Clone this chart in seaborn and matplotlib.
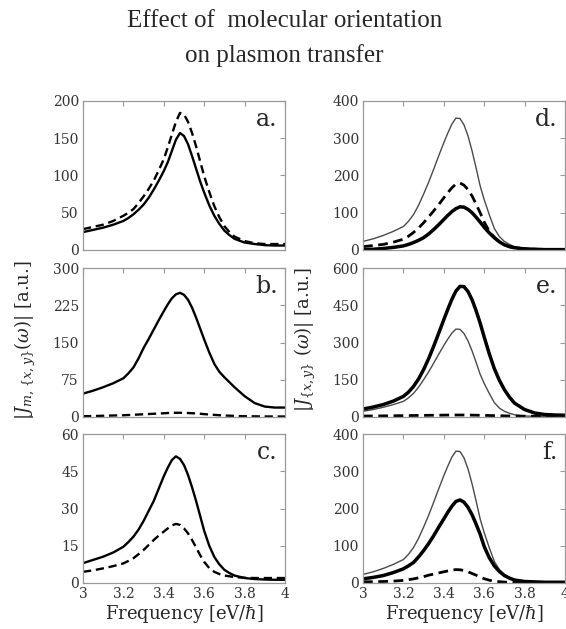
import numpy as np
import pandas as pd
import seaborn as sns
import matplotlib.pyplot as plt

# frequency grid (eV/hbar), denser around the peak
freq = [3.00, 3.05, 3.10, 3.15, 3.20,
        3.225, 3.25, 3.275, 3.30, 3.325, 3.35, 3.375, 3.40,
        3.42, 3.44, 3.46, 3.48, 3.50, 3.52, 3.54, 3.56, 3.58, 3.60,
        3.625, 3.65, 3.675, 3.70, 3.725, 3.75,
        3.80, 3.85, 3.90, 3.95, 4.00]

# left column: |J_m,{x,y}|
a_solid = [24, 27, 30, 34, 39,
           43, 48, 54, 61, 70, 81, 93, 106,
           118, 133, 148, 157, 153, 142, 126, 109, 92, 77,
           60, 46, 35, 26, 20, 15,
           10, 8, 6.5, 6, 6]
a_dash = [28, 31, 34, 39, 46,
          50, 55, 63, 72, 82, 93, 107, 122,
          138, 155, 172, 184, 182, 172, 157, 139, 119, 99,
          78, 59, 44, 32, 24, 18,
          12, 9, 8, 8, 8]
b_solid = [47, 53, 60, 68, 78,
           88, 100, 118, 139, 157, 176, 195, 213,
           227, 239, 247, 250, 246, 236, 220, 200, 178, 156,
           130, 107, 91, 80, 70, 60,
           42, 28, 21, 19, 19]
b_dash = [1.5, 2, 2.5, 3, 3.5,
          4, 4.5, 5, 5.5, 6, 6.5, 7, 7.5,
          8, 8.3, 8.5, 8.5, 8.3, 8, 7.6, 7.2, 6.5, 5.8,
          5, 4.3, 3.6, 3, 2.6, 2.2,
          1.6, 1.3, 1.1, 1, 1]
c_solid = [8, 9.3, 10.6, 12.3, 14.6,
           16.5, 18.7, 21.5, 25, 29, 33, 38, 43,
           46.5, 49.5, 51, 50, 47.5, 43.5, 38.5, 33, 27, 21,
           15, 10.5, 7.5, 5.3, 4, 3,
           2, 1.6, 1.4, 1.3, 1.3]
c_dash = [4.5, 5.1, 5.9, 6.8, 7.9,
          8.9, 10, 11.6, 13.3, 15.3, 17.3, 19.1, 20.7,
          22, 23.2, 23.8, 23.4, 22, 20, 17.3, 14.3, 11.2, 8.5,
          6, 4.5, 3.6, 3, 2.7, 2.4,
          2.1, 2, 2, 2, 2]

# right column: |J_{x,y}|, thin reference curve shared by d, e, f
j_thin = [23, 30, 39, 50, 63,
          77, 95, 120, 150, 182, 217, 253, 288,
          314, 338, 354, 353, 336, 306, 266, 220, 172, 135,
          95, 58, 36, 23, 15, 9,
          4, 2.5, 2, 1.5, 1]
d_dash = [9, 12, 15, 21, 29,
          37, 47, 59, 73, 89, 105, 122, 140,
          154, 167, 177, 180, 174, 162, 145, 123, 100, 75,
          50, 34, 22, 14, 9, 6,
          3, 2, 1, 1, 1]
d_thick = [1, 2, 4, 7, 11,
           15, 20, 26, 33, 43, 55, 68, 82,
           93, 103, 111, 116, 115, 109, 100, 88, 75, 61,
           46, 33, 22, 14, 9, 6,
           3, 2, 1, 1, 1]
e_thick = [32, 40, 50, 64, 83,
           100, 123, 153, 191, 235, 285, 338, 392,
           434, 474, 507, 526, 525, 505, 472, 428, 378, 322,
           255, 195, 148, 110, 80, 56,
           30, 16, 10, 8, 7]
e_dash = [4, 4, 4.5, 5, 5.5,
          5.8, 6, 6.3, 6.5, 6.8, 7, 7.3, 7.5,
          7.8, 8, 8, 8, 8, 7.8, 7.5, 7.2, 6.8, 6.5,
          6, 5.5, 5, 4.5, 4, 3.7,
          3.3, 3, 3, 3, 3]
f_thick = [11, 15, 20, 28, 38,
           46, 55, 70, 87, 106, 127, 150, 172,
           190, 206, 219, 223, 217, 203, 183, 158, 131, 98,
           68, 46, 31, 20, 13, 8,
           4, 3, 2, 2, 2]
f_dash = [3, 3.5, 4, 5, 7,
          9, 11, 14, 17, 21, 24, 27, 30,
          32.5, 34.5, 36, 35.5, 33.5, 30, 25.5, 21, 16, 11.5,
          7.5, 5, 3.5, 2.5, 2, 1.7,
          1.3, 1, 1, 1, 1]

panel_letters = ["a.", "b.", "c.", "d.", "e.", "f."]
y_ticks = [[0, 50, 100, 150, 200], [0, 75, 150, 225, 300], [0, 15, 30, 45, 60],
           [0, 100, 200, 300, 400], [0, 150, 300, 450, 600], [0, 100, 200, 300, 400]]
x_ticks = [3, 3.2, 3.4, 3.6, 3.8, 4]
x_ticklabels = ["3", "3.2", "3.4", "3.6", "3.8", "4"]

sns.set_style("white")
plt.rcParams["font.family"] = ["DejaVu Serif"]
plt.rcParams["mathtext.fontset"] = "dejavuserif"

fig = plt.figure(figsize=(5.66, 6.29), dpi=100)

col_x = [83 / 566, 363 / 566]
col_w = 202 / 566
row_bottom = [1 - 250 / 629, 1 - 417 / 629, 1 - 583 / 629]
row_h = 149 / 629

thin = dict(color="#4a4a4a", linewidth=1.0)
thick = dict(color="black", linewidth=2.5)
solid = dict(color="black", linewidth=1.7)
dash = dict(color="black", linewidth=1.7, linestyle=(0, (3.5, 2)))
dash_r = dict(color="black", linewidth=2.0, linestyle=(0, (3.5, 2)))

curves = [
    [(a_solid, solid), (a_dash, dash)],
    [(b_solid, solid), (b_dash, dash)],
    [(c_solid, solid), (c_dash, dash)],
    [(j_thin, thin), (d_dash, dash_r), (d_thick, thick)],
    [(j_thin, thin), (e_dash, dash_r), (e_thick, thick)],
    [(j_thin, thin), (f_dash, dash_r), (f_thick, thick)],
]

for i in range(6):
    col, row = divmod(i, 3)
    ax = fig.add_axes([col_x[col], row_bottom[row], col_w, row_h])
    for vals, style in curves[i]:
        sns.lineplot(x=freq, y=vals, ax=ax, **style)
    ax.set_xlim(3, 4)
    ax.set_ylim(0, y_ticks[i][-1])
    ax.set_yticks(y_ticks[i])
    ax.set_xticks(x_ticks)
    ax.set_xticklabels(x_ticklabels)
    ax.tick_params(direction="in", length=3.5, width=0.8, color="#999999",
                   top=True, right=True, labelsize=10, labelcolor="#333333", pad=3)
    if row < 2:
        ax.tick_params(labelbottom=False)
    else:
        ax.set_xlabel("Frequency [eV/$\\hbar$]", fontsize=13, labelpad=1)
    for sp in ax.spines.values():
        sp.set_color("#999999")
        sp.set_linewidth(0.9)
    ax.text(0.965, 0.95, panel_letters[i], transform=ax.transAxes,
            ha="right", va="top", fontsize=17)

fig.text(0.045, 1 - 340 / 629, r"$|J_{m,\,\{x,y\}}(\omega)|$ [a.u.]",
         rotation=90, ha="center", va="center", fontsize=13)
fig.text(0.54, 1 - 340 / 629, r"$|J_{\{x,y\}}\ (\omega)|$ [a.u.]",
         rotation=90, ha="center", va="center", fontsize=13)

fig.text(0.503, 1 - 21 / 629, "Effect of  molecular orientation",
         ha="center", va="center", fontsize=18, family=["Liberation Serif"])
fig.text(0.503, 1 - 56 / 629, "on plasmon transfer",
         ha="center", va="center", fontsize=18, family=["Liberation Serif"])

fig.savefig("out.png", dpi=100)
